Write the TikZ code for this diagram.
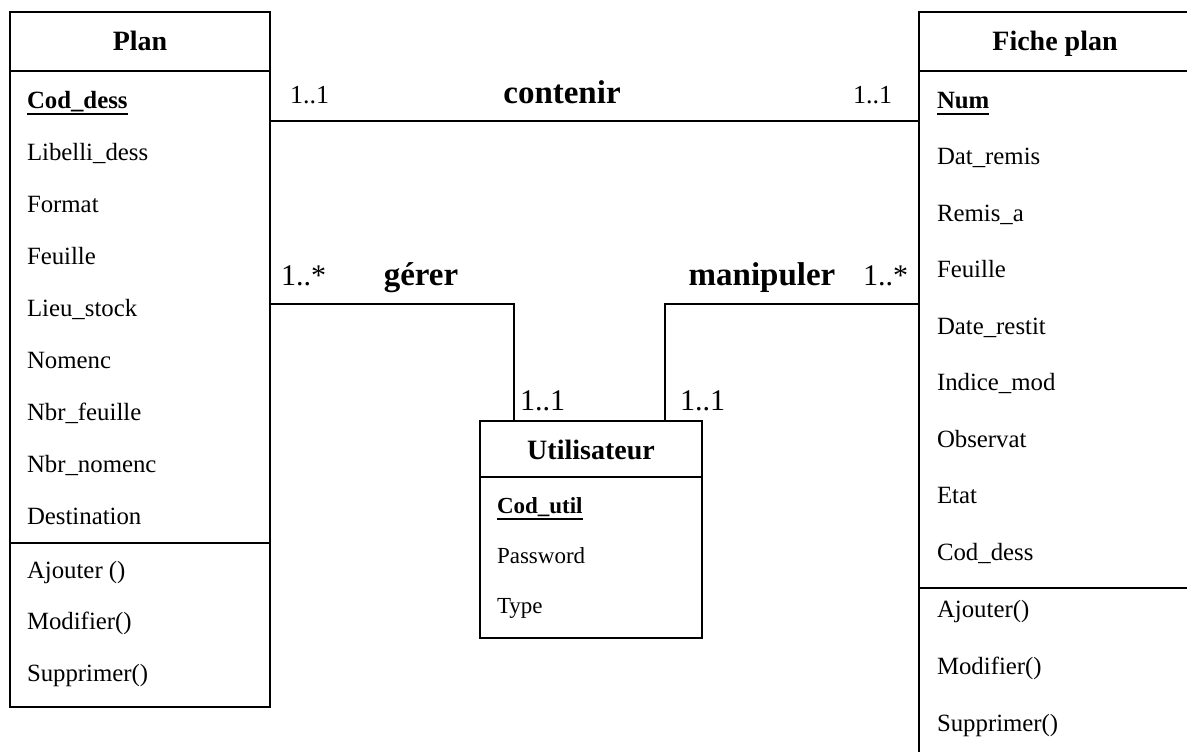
\documentclass[tikz,border=0pt]{standalone}
\usepackage{fontspec}
\setmainfont{Liberation Serif}

\begin{document}
\begin{tikzpicture}[x=0.5pt, y=-0.5pt]
\tikzset{ inner sep=0pt, outer sep=0pt,
  classbox/.style={draw, line width=1.3pt, anchor=north west},
  divider/.style={line width=1.3pt},
  link/.style={line width=1pt},
  head/.style={anchor=base, font=\fontsize{14}{16}\selectfont\bfseries},
  attr/.style={anchor=base west, font=\fontsize{12.4}{14}\selectfont},
  keyattr/.style={attr, font=\fontsize{12.4}{14}\selectfont\bfseries},
  assoc/.style={anchor=base, font=\fontsize{16.5}{18}\selectfont\bfseries},
  mult/.style={font=\fontsize{15}{17}\selectfont},
}

\clip (0,0) rectangle (1187,751);

%\draw [lightgray, dashed] (0,0) grid[step=50] (1187,751);

% the three classes
\node [classbox, minimum width=130pt, minimum height=347.5pt] (plan)  at (10,12)  {};
\node [classbox, minimum width=136pt, minimum height=389pt]   (fiche) at (919,12) {};
\node [classbox, minimum width=111pt, minimum height=108.5pt] (util)  at (480,421) {};

\draw [divider] (plan.west |- 0,71)   -- (plan.east |- 0,71);
\draw [divider] (plan.west |- 0,543)  -- (plan.east |- 0,543);
\draw [divider] (fiche.west |- 0,71)  -- (fiche.east |- 0,71);
\draw [divider] (fiche.west |- 0,588) -- (fiche.east |- 0,588);
\draw [divider] (util.west |- 0,477)  -- (util.east |- 0,477);

\node [head] (plan-name)  at (140,50)  {Plan};
\node [head] (fiche-name) at (1055,50) {Fiche plan};
\node [head] (util-name)  at (591,459) {Utilisateur};

% Plan
\node [keyattr] (plan-key) at (27,108) {Cod\_dess};
\draw [line width=1.3pt] ([yshift=-3pt]plan-key.base west) -- ([yshift=-3pt]plan-key.base east);
\foreach \t [count=\i] in {Libelli\_dess, Format, Feuille, Lieu\_stock, Nomenc,
    Nbr\_feuille, Nbr\_nomenc, Destination}
  \node [attr] (plan-a\i) at (27,{108+52.1*\i}) {\t};
\foreach \t [count=\i from 0] in {Ajouter (), Modifier(), Supprimer()}
  \node [attr] (plan-m\i) at (27,{578+51.5*\i}) {\t};

% Fiche plan
\node [keyattr] (fiche-key) at (937,108) {Num};
\draw [line width=1.3pt] ([yshift=-3pt]fiche-key.base west) -- ([yshift=-3pt]fiche-key.base east);
\foreach \t [count=\i] in {Dat\_remis, Remis\_a, Feuille, Date\_restit, Indice\_mod,
    Observat, Etat, Cod\_dess}
  \node [attr] (fiche-a\i) at (937,{108+56.5*\i}) {\t};
\foreach \t [count=\i from 0] in {Ajouter(), Modifier(), Supprimer()}
  \node [attr] (fiche-m\i) at (937,{617+57*\i}) {\t};

% Utilisateur
\node [keyattr, font=\fontsize{11.5}{13}\selectfont\bfseries] (util-key) at (497,513) {Cod\_util};
\draw [line width=1.3pt] ([yshift=-3pt]util-key.base west) -- ([yshift=-3pt]util-key.base east);
\node [attr, font=\fontsize{11.5}{13}\selectfont] (util-a1) at (497,563) {Password};
\node [attr, font=\fontsize{11.5}{13}\selectfont] (util-a2) at (497,613) {Type};

% associations
\draw [link] (plan.east |- 0,121) -- (fiche.west |- 0,121);
\draw [link] (plan.east |- 0,304) -| (util.north -| 514,0);
\draw [link] (fiche.west |- 0,304) -| (util.north -| 665,0);

\node [assoc] (contenir)  at (562,103) {contenir};
\node [assoc] (gerer)     at (421,285) {gérer};
\node [assoc] (manipuler) at (762,285) {manipuler};

\node [mult, anchor=base west, font=\fontsize{13}{15}\selectfont] (m1) at (290,103) {1..1};
\node [mult, anchor=base east, font=\fontsize{13}{15}\selectfont] (m2) at (892,103) {1..1};
\node [mult, anchor=base west] (m3) at (281,285) {1..*};
\node [mult, anchor=base east] (m4) at (908,285) {1..*};
\node [mult, anchor=base west] (m5) at (520,410) {1..1};
\node [mult, anchor=base west] (m6) at (680,410) {1..1};

\end{tikzpicture}
\end{document}
